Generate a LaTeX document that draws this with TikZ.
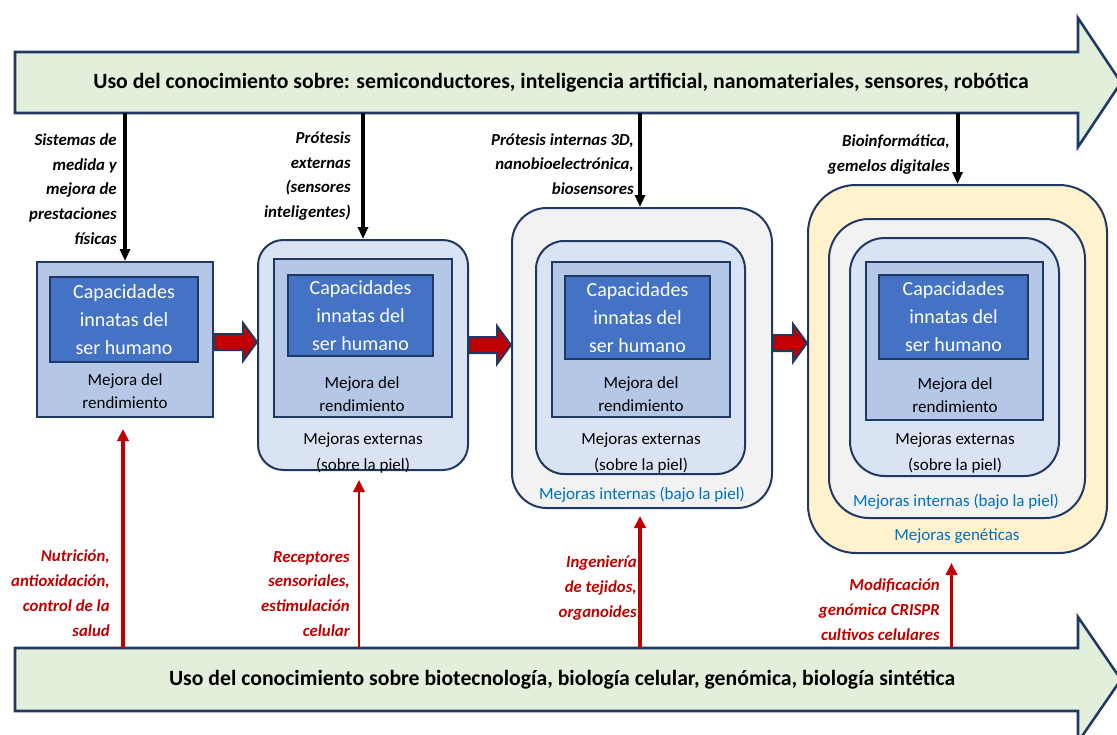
\documentclass[tikz,border=0pt]{standalone}
\usepackage{fontspec}
\setmainfont{Carlito}
\usetikzlibrary{arrows.meta,calc,fit}
\definecolor{navy}{HTML}{1F3864}
\definecolor{bargreen}{HTML}{E2EFDA}
\definecolor{darkred}{HTML}{C00000}
\definecolor{txtblue}{HTML}{0070C0}
\definecolor{lyellow}{HTML}{FFF2CC}
\definecolor{lgray}{HTML}{F2F2F2}
\definecolor{lblue}{HTML}{DAE3F3}
\definecolor{mblue}{HTML}{B4C7E7}
\definecolor{dblue}{HTML}{4472C4}
\newcommand\blockarrow[3]{%
  \coordinate (ba-y) at (0,#3);
  \coordinate (ba-s) at (#1 |- ba-y);
  \coordinate (ba-e) at (#2 |- ba-y);
  \draw[blockarr] ($(ba-s)+(0,-8)$) -- ($(ba-e)+(-14,-8)$) -- ($(ba-e)+(-14,-19)$) -- (ba-e)
     -- ($(ba-e)+(-14,19)$) -- ($(ba-e)+(-14,8)$) -- ($(ba-s)+(0,8)$) -- cycle;}
\begin{document}
\begin{tikzpicture}[x=0.75pt,y=-0.75pt,
 bar/.style={draw=navy,fill=bargreen,line width=1.9pt,line join=miter},
 barbody/.style={inner sep=0pt},
 bx/.style={draw=navy,line width=1.5pt,inner sep=0pt},
 rbox/.style={bx,rounded corners=#1},
 captxt/.style={text=white,align=center,font=\fontsize{15}{21}\selectfont},
 mejtxt/.style={align=center,font=\fontsize{12.75}{17.25}\selectfont},
 exttxt/.style={align=center,font=\fontsize{12.75}{19.5}\selectfont},
 bluetxt/.style={text=txtblue,font=\fontsize{12.75}{15}\selectfont},
 toplbl/.style={anchor=east,align=right,inner sep=0pt,font=\fontsize{12.6}{18.6}\selectfont\bfseries\itshape},
 botlbl/.style={toplbl,text=darkred},
 bartxt/.style={font=\fontsize{16.3}{18}\selectfont\bfseries},
 downarr/.style={line width=3pt,-{Triangle[width=7.5pt,length=9pt]}},
 upthick/.style={draw=darkred,line width=3.2pt,-{Triangle[width=8.5pt,length=9pt]}},
 upthin/.style={draw=darkred,line width=2pt,-{Triangle[width=8.5pt,length=9pt]}},
 blockarr/.style={draw=navy,fill=darkred,line width=1.5pt,line join=miter}
]
\useasboundingbox (0,0) rectangle (1117,735);
\fill[white] (0,0) rectangle (1117,735);

% top bar
\draw[bar] (15,52) -- (1078,52) -- (1078,18) -- (1121,82.5) -- (1078,147) -- (1078,113) -- (15,113) -- cycle;
\node[barbody,fit={(15,52)(1078,113)}] (topbar) {};
\node[bartxt] (toptext) at (561,83) {Uso del conocimiento sobre: semiconductores, inteligencia artificial, nanomateriales, sensores, robótica};

% bottom bar
\draw[bar] (15,648) -- (1078,648) -- (1078,617) -- (1121,679.5) -- (1078,742) -- (1078,711) -- (15,711) -- cycle;
\node[barbody,fit={(15,648)(1078,711)}] (botbar) {};
\node[bartxt] (bottext) at (562,680) {Uso del conocimiento sobre biotecnología, biología celular, genómica, biología sintética};

% box 1
\node[bx,fill=mblue,fit={(37,262)(213,417)}] (b1) {};
\node[bx,fill=dblue,fit={(50,277)(198,362)}] (b1c) {};
\node[captxt] (t1c) at (b1c) {Capacidades\\innatas del\\ser humano};
\node[mejtxt] (t1m) at (125,391.5) {Mejora del\\rendimiento};

% box 2
\node[rbox=19pt,fill=lblue,fit={(258,240)(468,470)}] (b2) {};
\node[bx,fill=mblue,fit={(274,259)(452,417)}] (b2r) {};
\node[bx,fill=dblue,fit={(288,275)(433,356)}] (b2c) {};
\node[captxt] (t2c) at (b2c) {Capacidades\\innatas del\\ser humano};
\node[mejtxt] (t2m) at (362,394.5) {Mejora del\\rendimiento};
\node[exttxt] (t2e) at (363,453) {Mejoras externas\\(sobre la piel)};

% box 3
\node[rbox=26pt,fill=lgray,fit={(512,208)(772,508)}] (b3) {};
\node[rbox=21pt,fill=lblue,fit={(536,241)(745,474)}] (b3m) {};
\node[bx,fill=mblue,fit={(552,262)(730,417)}] (b3r) {};
\node[bx,fill=dblue,fit={(565,276)(710,359)}] (b3c) {};
\node[captxt] (t3c) at (b3c) {Capacidades\\innatas del\\ser humano};
\node[mejtxt] (t3m) at (641,394.5) {Mejora del\\rendimiento};
\node[exttxt] (t3e) at (641,453.5) {Mejoras externas\\(sobre la piel)};
\node[bluetxt] (t3i) at (642,495) {Mejoras internas (bajo la piel)};

% box 4
\node[rbox=36pt,fill=lyellow,fit={(808,185)(1107,553)}] (b4) {};
\node[rbox=30pt,fill=lgray,fit={(829,219)(1085,518)}] (b4g) {};
\node[rbox=26pt,fill=lblue,fit={(850,238)(1059,476)}] (b4m) {};
\node[bx,fill=mblue,fit={(866,262)(1043,420)}] (b4r) {};
\node[bx,fill=dblue,fit={(879,275)(1028,359)}] (b4c) {};
\node[captxt] (t4c) at (b4c) {Capacidades\\innatas del\\ser humano};
\node[mejtxt] (t4m) at (955,395.5) {Mejora del\\rendimiento};
\node[exttxt] (t4e) at (955,453) {Mejoras externas\\(sobre la piel)};
\node[bluetxt] (t4i) at (956,502) {Mejoras internas (bajo la piel)};
\node[bluetxt] (t4g) at (957,536) {Mejoras genéticas};

% block arrows
\blockarrow{b1.east}{b2.west}{342}
\blockarrow{b2.east}{b3.west}{345}
\blockarrow{b3.east}{b4.west}{343}

% down arrows
\draw[downarr] (topbar.south -| b1.north) -- (b1.north);
\draw[downarr] (topbar.south -| b2.north) -- (b2.north);
\coordinate (d3) at ($(b3.north)+(-2,0)$);
\draw[downarr] (topbar.south -| d3) -- (d3);
\draw[downarr] (topbar.south -| b4.north) -- (b4.north);

% up arrows
\coordinate (u1) at ($(b1.south)+(-2,11)$);
\coordinate (u2) at ($(b2.south)+(-4,9)$);
\coordinate (u3) at ($(b3.south)+(-2,7)$);
\coordinate (u4) at ($(b4.south)+(-6,9)$);
\draw[upthick] (u1 |- botbar.north) -- (u1);
\draw[upthin] (u2 |- botbar.north) -- (u2);
\draw[upthick] (u3 |- botbar.north) -- (u3);
\draw[upthin] (u4 |- botbar.north) -- (u4);

% labels
\node[toplbl] (l1) at (117,189) {Sistemas de\\medida y\\mejora de\\prestaciones\\físicas};
\node[toplbl] (l2) at (351,176) {Prótesis\\externas\\(sensores\\inteligentes)};
\node[toplbl] (l3) at (634,164) {Prótesis internas 3D,\\nanobioelectrónica,\\biosensores};
\node[toplbl] (l4) at (950,154.5) {Bioinformática,\\gemelos digitales};
\node[botlbl] (r1) at (110,593) {Nutrición,\\antioxidación,\\control de la\\salud};
\node[botlbl] (r2) at (350,594) {Receptores\\sensoriales,\\estimulación\\celular};
\node[botlbl] (r3) at (637,588) {Ingeniería\\de tejidos,\\organoides};
\node[botlbl] (r4) at (940,609.5) {Modificación\\genómica CRISPR\\cultivos celulares};
\end{tikzpicture}
\end{document}
